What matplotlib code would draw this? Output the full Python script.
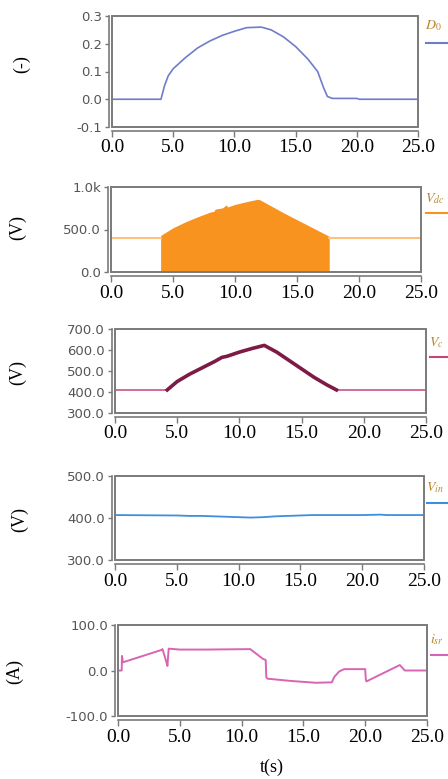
import numpy as np
import matplotlib
matplotlib.use("Agg")
import matplotlib.pyplot as plt
from matplotlib.patches import Rectangle

plt.rcParams['mathtext.fontset'] = 'stix'

# ---- data ----
t_d0 = [0.0, 4.0, 4.3, 4.6, 5.0, 6.0, 7.0, 8.0, 9.0, 10.0, 11.0, 12.2, 13.0, 14.0, 15.0, 16.0,
        16.8, 17.3, 17.6, 18.0, 20.0, 20.2, 25.0]
d0 = [0.0, 0.0, 0.05, 0.085, 0.11, 0.15, 0.185, 0.21, 0.23, 0.245, 0.258, 0.26, 0.25, 0.225,
      0.19, 0.145, 0.10, 0.04, 0.01, 0.003, 0.003, 0.0, 0.0]

t_vdc_flat1 = [0.0, 4.0]
t_vdc_flat2 = [17.6, 25.0]
vdc_flat = [405, 405]
t_vdc = [4.0, 5.0, 6.0, 7.0, 8.0, 8.3, 8.4, 9.0, 9.3, 9.4, 10.0, 11.0, 11.8, 12.0, 13.0, 14.0,
         15.0, 16.0, 17.0, 17.6]
vdc_env = [430, 520, 590, 650, 705, 715, 740, 755, 790, 765, 795, 830, 855, 850, 770, 690,
           615, 540, 465, 420]

t_vc_flat1 = [0.0, 4.2]
t_vc_flat2 = [17.8, 25.0]
vc_flat = [410, 410]
t_vc = [4.2, 5.0, 6.0, 7.0, 8.0, 8.6, 9.0, 10.0, 11.0, 12.0, 13.0, 14.0, 15.0, 16.0, 17.0, 17.8]
vc = [410, 450, 485, 515, 545, 565, 570, 590, 607, 622, 590, 550, 510, 470, 435, 410]

t_vin = [0.0, 5.0, 6.0, 7.0, 8.0, 9.0, 10.0, 11.0, 12.0, 13.0, 14.0, 16.0, 20.0, 21.5, 22.0, 25.0]
vin = [407, 406, 405, 405, 404, 403, 402, 401, 402, 404, 405, 407, 407, 408, 407, 407]

t_isr = [0.0, 0.3, 0.32, 0.4, 3.5, 3.6, 3.9, 4.0, 4.1, 5.0, 7.0, 10.7, 11.7, 11.95, 12.0, 12.1,
         14.0, 16.0, 17.3, 17.5, 17.9, 18.3, 20.0, 20.05, 20.1, 22.8, 23.2, 25.0]
isr = [0, 0, 32, 18, 45, 47, 20, 10, 48, 46, 46, 47, 26, 23, -15, -18, -23, -27, -26, -14, -2,
       3, 3, -20, -24, 12, 0, 0]

ylabels = ["(-)", "(V)", "(V)", "(V)", "(A)"]
legends = [r"$D_0$", r"$V_{dc}$", r"$V_{c}$", r"$V_{in}$", r"$i_{sr}$"]
ylims = [(-0.1, 0.3), (0, 1000), (300, 700), (300, 500), (-100, 100)]
yticks = [[-0.1, 0.0, 0.1, 0.2, 0.3], [0, 500, 1000], [300, 400, 500, 600, 700],
          [300, 400, 500], [-100, 0, 100]]
yticklabels = [["-0.1", "0.0", "0.1", "0.2", "0.3"], ["0.0", "500.0", "1.0k"],
               ["300.0", "400.0", "500.0", "600.0", "700.0"], ["300.0", "400.0", "500.0"],
               ["-100.0", "0.0", "100.0"]]
xticks = [0, 5, 10, 15, 20, 25]
xticklabels = ["0.0", "5.0", "10.0", "15.0", "20.0", "25.0"]
colors = ["#6f7cc9", "#f7931e", "#c4477a", "#3d8fdb", "#d865b4"]

# box positions in pixels: left, right, top, bottom
boxes = [(112, 418, 16, 127), (111, 421, 187, 272), (115, 426, 329, 413),
         (115, 424, 476, 560), (118, 427, 625, 716)]
ylab_pos = [(22, 64), (18, 227), (18, 372), (20, 520), (15, 671)]
leg_pos = [(425, 10, 27), (425, 12, 26), (429, 14, 28), (426, 12, 27), (430, 15, 30)]

W, H = 448, 779
fig = plt.figure(figsize=(W / 100, H / 100), dpi=100)
gray = "#7a7a7a"

axes = []
for i, (l, r, tp, b) in enumerate(boxes):
    ax = fig.add_axes([l / W, 1 - b / H, (r - l) / W, (b - tp) / H])
    axes.append(ax)
    ax.set_xlim(0, 25)
    ax.set_ylim(*ylims[i])
    for s in ["top", "right"]:
        ax.spines[s].set_visible(False)
    ax.spines["left"].set_position(("outward", 2.2))
    ax.spines["bottom"].set_position(("outward", 3))
    ax.spines["bottom"].set_bounds(0, 25)
    for s in ["left", "bottom"]:
        ax.spines[s].set_color(gray)
        ax.spines[s].set_linewidth(1.2)
    ax.add_patch(Rectangle((0, 0), 1, 1, transform=ax.transAxes, fill=False,
                           ec=gray, lw=1.4, clip_on=False, zorder=5))
    ax.set_yticks(yticks[i])
    ax.set_yticklabels(yticklabels[i], fontsize=9.5, color="#555555", family="DejaVu Sans")
    ax.set_xticks(xticks)
    ax.set_xticklabels(xticklabels, fontsize=14, family="Liberation Serif")
    ax.tick_params(axis="y", direction="out", length=3, width=1, color=gray, pad=2)
    ax.tick_params(axis="x", direction="out", length=4.5, width=1, color=gray, pad=1.5)

    fig.text(ylab_pos[i][0] / W, 1 - ylab_pos[i][1] / H, ylabels[i], rotation=90,
             ha="center", va="center", fontsize=13, family="Liberation Serif")
    lx, ly, lly = leg_pos[i]
    fig.text(lx / W, 1 - (tp + ly) / H, legends[i], ha="left", va="center",
             fontsize=10, color="#b8862a")
    fig.add_artist(plt.Line2D([(lx + 1) / W, 1.0], [1 - (tp + lly) / H] * 2,
                              color=colors[i], lw=1.5, transform=fig.transFigure))

axes[0].plot(t_d0, d0, color=colors[0], lw=1.2)

axes[1].plot(t_vdc_flat1, vdc_flat, color="#fcc07f", lw=1.5)
axes[1].plot(t_vdc_flat2, vdc_flat, color="#fcc07f", lw=1.5)
axes[1].fill_between(t_vdc, 0, vdc_env, color=colors[1], lw=0)

axes[2].plot(t_vc_flat1, vc_flat, color=colors[2], lw=1.1)
axes[2].plot(t_vc_flat2, vc_flat, color=colors[2], lw=1.1)
axes[2].plot(t_vc, vc, color="#7d1a45", lw=2.6)

axes[3].plot(t_vin, vin, color=colors[3], lw=1.3)

axes[4].plot(t_isr, isr, color=colors[4], lw=1.4)

fig.text(272 / W, 1 - 767 / H, "t(s)", ha="center", va="center", fontsize=13,
         family="Liberation Serif")

fig.savefig("out.png", dpi=100)
